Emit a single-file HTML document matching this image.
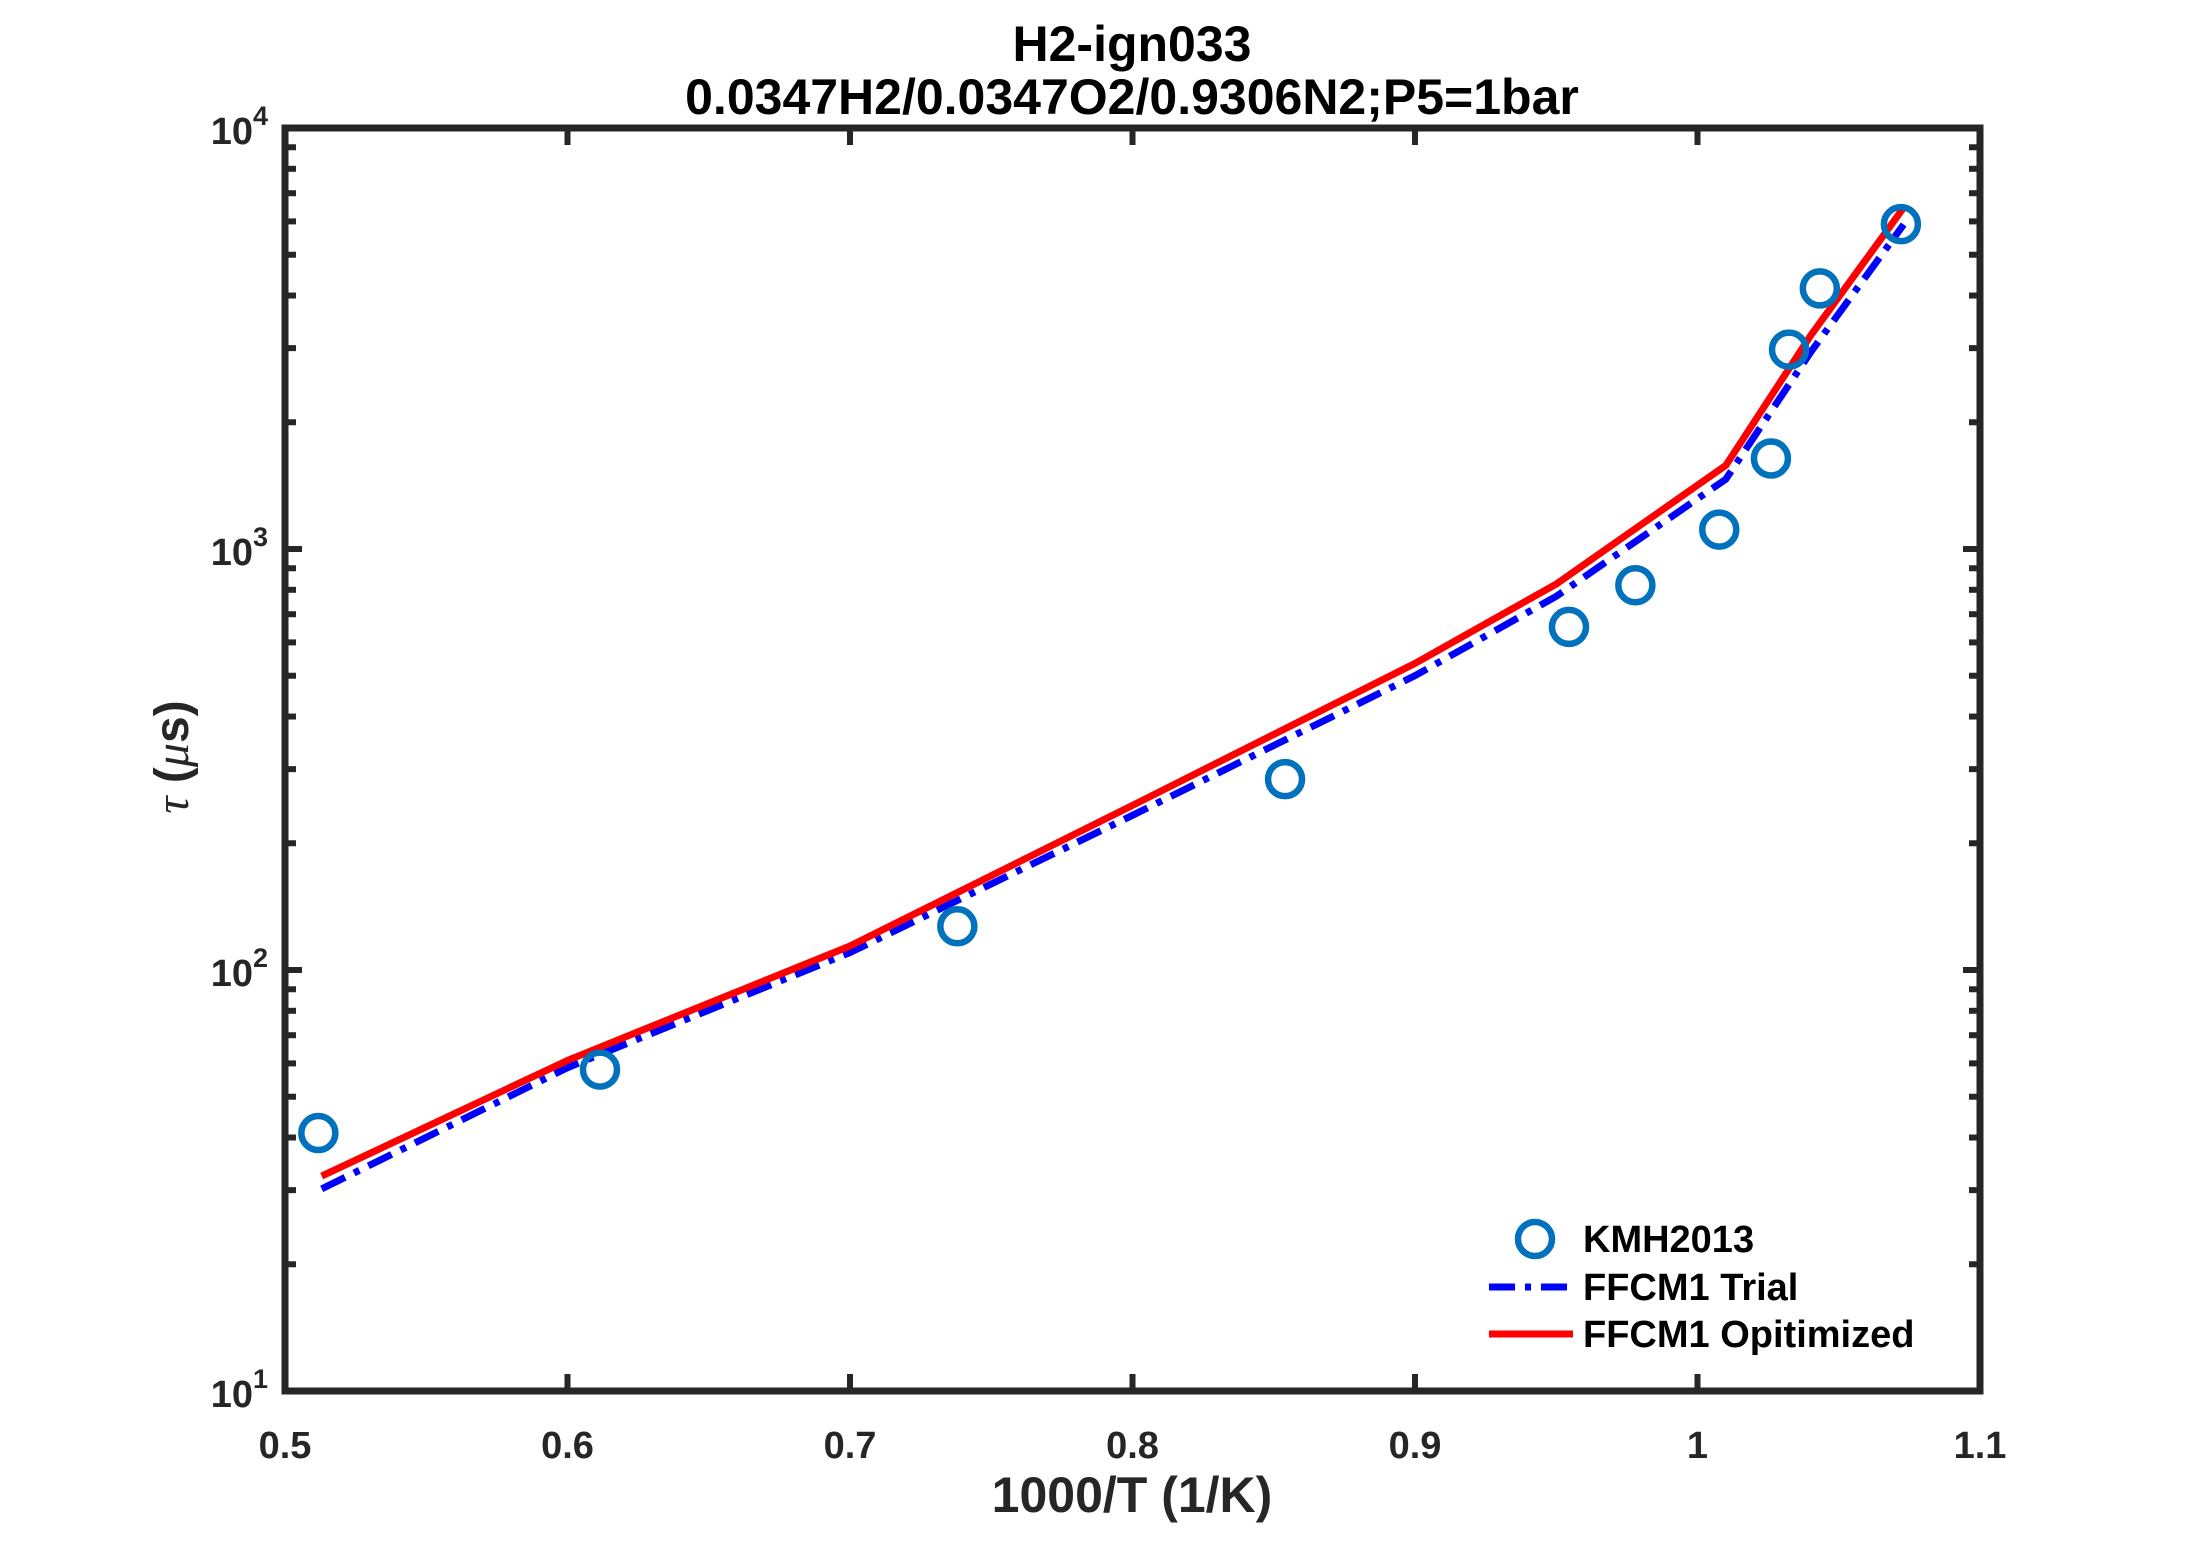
<!DOCTYPE html>
<html><head><meta charset="utf-8"><style>
body{margin:0;background:#fff}
svg text{font-family:"Liberation Sans",Arial,sans-serif;font-weight:bold;fill:#262626}
</style></head><body>
<svg id="chart" width="2187" height="1563" viewBox="0 0 2187 1563" xmlns="http://www.w3.org/2000/svg">
<rect width="2187" height="1563" fill="#fff"/>
<text x="1132" y="61" font-size="50" text-anchor="middle" style="fill:#000">H2-ign033</text>
<text x="1132" y="114" font-size="50" text-anchor="middle" style="fill:#000">0.0347H2/0.0347O2/0.9306N2;P5=1bar</text>
<g id="ticks"></g>
<g id="series"></g>
<rect x="285" y="128" width="1695" height="1263" fill="none" stroke="#262626" stroke-width="7"/>
<text x="1132" y="1512" font-size="50" text-anchor="middle">1000/T (1/K)</text>
<text transform="translate(188,757) rotate(-90)" font-size="48" text-anchor="middle"><tspan font-style="italic" font-family="Liberation Serif,serif" font-weight="normal">τ</tspan> (<tspan font-style="italic" font-family="Liberation Serif,serif" font-weight="normal">μ</tspan>s)</text>
<g>
<circle cx="1535" cy="1239" r="17" fill="none" stroke="#0072BD" stroke-width="6.5"/>
<text x="1583" y="1252" font-size="38" style="fill:#000">KMH2013</text>
<line x1="1489" y1="1287" x2="1573" y2="1287" stroke="#0000ff" stroke-width="7" stroke-dasharray="26,10,6,10"/>
<text x="1583" y="1300" font-size="38" style="fill:#000">FFCM1 Trial</text>
<line x1="1489" y1="1334" x2="1573" y2="1334" stroke="#ff0000" stroke-width="7"/>
<text x="1583" y="1347" font-size="38" style="fill:#000">FFCM1 Opitimized</text>
</g>
</svg>
<script>
const expX = [0.5118,0.6115,0.738,0.854,0.9545,0.978,1.0077,1.026,1.0324,1.0433,1.072];
const expY = [41,58,127,284,653,820,1112,1641,2976,4159,5910];
const modelX = [0.513,0.6,0.7,0.8,0.9,0.95,1.01,1.04,1.073];
const trialY = [30.2,58.6,110,233,500,772,1465,2930,5900];
const optY = [32.4,61,114,246,535,826,1580,3210,6470];
const xTicks = [0.5,0.6,0.7,0.8,0.9,1,1.1];
const xTickLabels = ["0.5","0.6","0.7","0.8","0.9","1","1.1"];
const yDecades = [1,2,3,4];

const NS="http://www.w3.org/2000/svg";
const X0=285,X1=1980,Y0=1391,Y1=128;
function sx(v){return X0+(v-0.5)/0.6*(X1-X0);}
function sy(v){return Y0-(Math.log10(v)-1)/3*(Y0-Y1);}
function mk(tag,attrs,parent){const e=document.createElementNS(NS,tag);for(const k in attrs)e.setAttribute(k,attrs[k]);parent.appendChild(e);return e;}
const tg=document.getElementById('ticks'), sg=document.getElementById('series');
xTicks.forEach((t,i)=>{
  const x=sx(t);
  let l=mk('line',{x1:x,y1:Y0,x2:x,y2:Y0-17,stroke:'#262626','stroke-width':6},tg);
  
  
  l=mk('line',{x1:x,y1:Y1,x2:x,y2:Y1+17,stroke:'#262626','stroke-width':6},tg);
  
  
  const tx=mk('text',{x:x,y:1458,'font-size':38,'text-anchor':'middle'},tg);
  tx.textContent=xTickLabels[i];
  
  
});
yDecades.forEach(d=>{
  const y=sy(Math.pow(10,d));
  const tx=mk('text',{x:268,y:y+16,'font-size':38,'text-anchor':'end'},tg);
  tx.textContent='10';
  const sup=mk('tspan',{dy:-19,'font-size':27},tx);sup.textContent=String(d);
  
  
  if(d<4){for(let m=1;m<=9;m++){
    const yy=sy(m*Math.pow(10,d));const len=m===1?17:11;
    let l=mk('line',{x1:X0,y1:yy,x2:X0+len,y2:yy,stroke:'#262626','stroke-width':6},tg);
    
    
    l=mk('line',{x1:X1,y1:yy,x2:X1-len,y2:yy,stroke:'#262626','stroke-width':6},tg);
    
    
  }}
});
function pts(xs,ys){return xs.map((x,i)=>sx(x).toFixed(1)+','+sy(ys[i]).toFixed(1)).join(' ');}
let p=mk('polyline',{points:pts(modelX,trialY),fill:'none',stroke:'#0000ff','stroke-width':7,'stroke-dasharray':'26,10,6,10'},sg);


p=mk('polyline',{points:pts(modelX,optY),fill:'none',stroke:'#ff0000','stroke-width':7},sg);


expX.forEach((x,i)=>{
  const c=mk('circle',{cx:sx(x),cy:sy(expY[i]),r:17,fill:'none',stroke:'#0072BD','stroke-width':6.5},sg);
  
  
});
</script>
</body></html>
